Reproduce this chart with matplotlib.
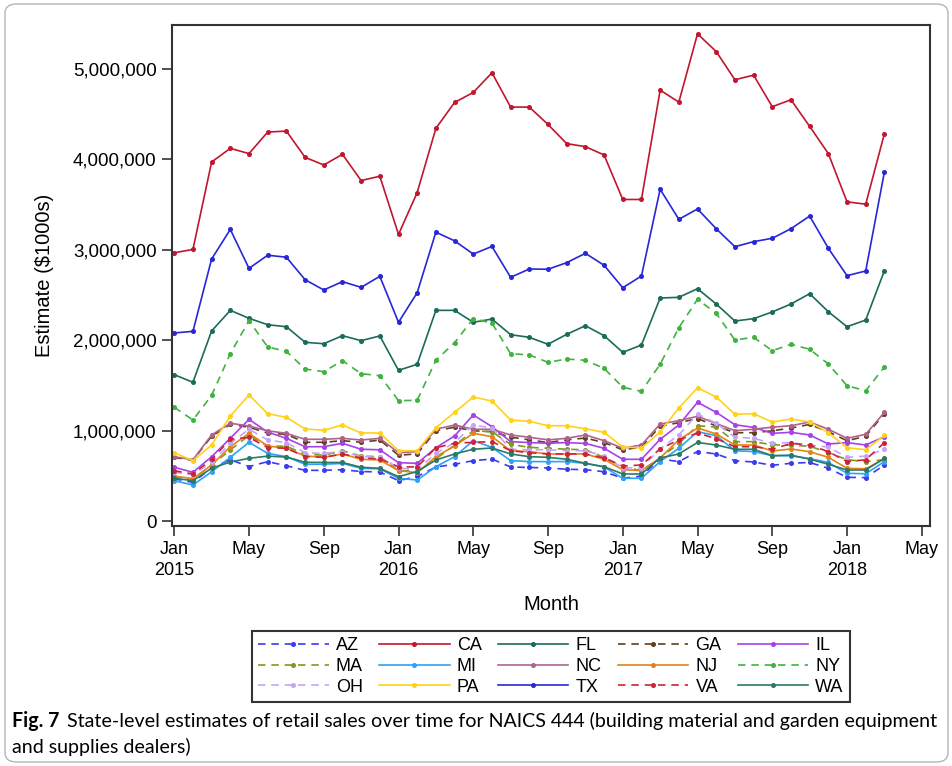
import numpy as np
import matplotlib
matplotlib.use("Agg")
import matplotlib.pyplot as plt
from matplotlib.patches import FancyBboxPatch
from matplotlib.ticker import FuncFormatter

# Monthly estimates, Jan 2015 - Mar 2018, in $1000s
AZ = [470, 430, 590, 680, 605, 659, 614, 563, 563, 570, 550, 545, 449, 495, 600, 630, 670, 688, 600, 595, 589, 575, 570, 548, 475, 500, 690, 659, 771, 744, 670, 655, 619, 641, 650, 586, 486, 483, 622]
CA = [2967, 3004, 3970, 4121, 4063, 4301, 4312, 4022, 3937, 4055, 3765, 3813, 3170, 3633, 4342, 4628, 4739, 4956, 4577, 4577, 4385, 4173, 4140, 4048, 3556, 3556, 4764, 4632, 5386, 5191, 4879, 4930, 4581, 4658, 4364, 4063, 3530, 3504, 4283]
FL = [1620, 1536, 2103, 2331, 2243, 2172, 2150, 1978, 1962, 2051, 1996, 2048, 1668, 1735, 2331, 2331, 2199, 2235, 2062, 2033, 1956, 2066, 2161, 2051, 1867, 1948, 2467, 2475, 2570, 2401, 2213, 2239, 2313, 2401, 2515, 2316, 2150, 2224, 2769]
GA = [705, 675, 940, 1070, 1040, 975, 960, 873, 873, 891, 873, 898, 730, 745, 1000, 1040, 1000, 990, 930, 900, 870, 900, 920, 870, 790, 820, 1050, 1090, 1135, 1053, 979, 979, 1000, 1030, 1070, 990, 890, 940, 1190]
IL = [597, 541, 714, 917, 1127, 985, 917, 824, 824, 862, 796, 790, 648, 640, 813, 943, 1175, 1046, 880, 870, 862, 870, 860, 807, 685, 685, 906, 1064, 1315, 1204, 1067, 1038, 972, 983, 954, 854, 870, 843, 935]
MA = [493, 465, 622, 788, 950, 830, 830, 740, 730, 780, 720, 714, 560, 555, 690, 840, 1000, 990, 850, 817, 807, 796, 790, 707, 600, 560, 700, 860, 1056, 1040, 880, 880, 845, 840, 830, 760, 680, 660, 680]
MI = [449, 401, 548, 707, 873, 751, 714, 630, 630, 640, 585, 580, 475, 456, 603, 714, 891, 817, 670, 660, 659, 660, 640, 600, 475, 475, 660, 807, 990, 946, 780, 770, 725, 725, 692, 650, 530, 525, 660]
NC = [714, 680, 954, 1083, 1053, 1000, 972, 906, 906, 917, 898, 917, 758, 770, 1017, 1064, 1017, 1017, 954, 928, 900, 917, 954, 891, 807, 843, 1075, 1112, 1160, 1080, 1001, 1017, 1040, 1056, 1097, 1017, 917, 961, 1204]
NJ = [500, 471, 622, 824, 972, 832, 807, 722, 707, 744, 685, 677, 560, 537, 714, 832, 972, 935, 780, 770, 744, 744, 744, 685, 570, 560, 700, 900, 1031, 965, 843, 843, 777, 799, 769, 707, 586, 580, 690]
NY = [1260, 1119, 1392, 1852, 2217, 1926, 1878, 1683, 1653, 1775, 1631, 1609, 1333, 1337, 1779, 1974, 2239, 2191, 1852, 1838, 1757, 1793, 1779, 1690, 1481, 1436, 1735, 2139, 2453, 2298, 2003, 2033, 1885, 1956, 1901, 1738, 1498, 1443, 1705]
OH = [540, 515, 650, 860, 1017, 898, 869, 758, 750, 770, 714, 714, 590, 570, 750, 870, 1064, 1030, 796, 790, 790, 780, 780, 720, 590, 590, 800, 954, 1186, 1083, 928, 917, 862, 870, 843, 820, 707, 720, 796]
PA = [758, 670, 843, 1163, 1396, 1189, 1149, 1020, 1006, 1064, 976, 976, 780, 780, 1034, 1204, 1373, 1329, 1119, 1105, 1056, 1056, 1023, 983, 821, 810, 987, 1252, 1476, 1373, 1182, 1189, 1097, 1130, 1097, 979, 813, 791, 950]
TX = [2081, 2099, 2898, 3225, 2795, 2940, 2918, 2670, 2556, 2648, 2585, 2707, 2199, 2526, 3195, 3099, 2953, 3037, 2696, 2788, 2785, 2858, 2961, 2829, 2581, 2710, 3669, 3337, 3451, 3233, 3034, 3090, 3127, 3233, 3373, 3017, 2714, 2766, 3860]
VA = [559, 523, 685, 906, 928, 813, 807, 715, 707, 744, 700, 690, 603, 600, 813, 862, 873, 880, 780, 758, 744, 744, 744, 700, 611, 622, 800, 900, 975, 913, 824, 824, 796, 860, 843, 770, 659, 680, 869]
WA = [475, 449, 586, 655, 696, 720, 710, 652, 650, 650, 597, 585, 493, 550, 677, 744, 796, 810, 744, 714, 707, 685, 641, 603, 523, 523, 700, 744, 871, 843, 796, 796, 725, 730, 687, 630, 567, 567, 696]

states = ["AZ", "CA", "FL", "GA", "IL", "MA", "MI", "NC", "NJ", "NY", "OH", "PA", "TX", "VA", "WA"]
series = [AZ, CA, FL, GA, IL, MA, MI, NC, NJ, NY, OH, PA, TX, VA, WA]
colors = ["#3b3bf2", "#c2162e", "#1b6b5a", "#5e3f1f", "#a742e8", "#7d9a1e", "#2fa2f5",
          "#b0628f", "#e3831b", "#3fb33f", "#c4a4f6", "#ffd21a", "#2727d8", "#cf2236", "#2b7a68"]
dashed = {"AZ", "GA", "MA", "NY", "OH", "VA"}

x_ticks = [0, 4, 8, 12, 16, 20, 24, 28, 32, 36, 40]
x_labels = ["Jan\n2015", "May", "Sep", "Jan\n2016", "May", "Sep", "Jan\n2017", "May", "Sep", "Jan\n2018", "May"]
y_ticks = [0, 1000000, 2000000, 3000000, 4000000, 5000000]

FONT = "Liberation Sans"
W, H = 953, 766

fig = plt.figure(figsize=(W / 100, H / 100), dpi=100)
ax = fig.add_axes([172 / W, 1 - 526 / H, (930 - 172) / W, (526 - 25) / H])

months = np.arange(len(CA))
handles = {}
for name, vals, c in zip(states, series, colors):
    ls = (0, (4.5, 3.5)) if name in dashed else "-"
    (ln,) = ax.plot(months, np.array(vals) * 1000, color=c, lw=1.2, ls=ls,
                    marker="o", ms=2.6, mec=c, mfc=c)
    handles[name] = ln

ax.set_xlim(-0.12, 40.44)
ax.set_ylim(-52000, 5484000)
ax.set_xticks(x_ticks)
ax.set_xticklabels(x_labels, fontsize=13, family=FONT, linespacing=1.25)
ax.set_yticks(y_ticks)
ax.yaxis.set_major_formatter(FuncFormatter(lambda v, p: f"{int(v):,}"))
for lab in ax.get_yticklabels():
    lab.set_fontsize(13.5)
    lab.set_family(FONT)
ax.tick_params(direction="out", length=7, width=1.2, color="#333333", pad=4)
for s in ax.spines.values():
    s.set_linewidth(1.5)
    s.set_color("#333333")

fig.text(45 / W, 1 - 275 / H, "Estimate ($1000s)", rotation=90, ha="center", va="center",
         fontsize=14.5, family=FONT)
fig.text(551 / W, 1 - 605 / H, "Month", ha="center", va="center", fontsize=14.5, family=FONT)

# legend laid out row by row, 5 columns
order = [states[j + 5 * i] for j in range(5) for i in range(3)]
leg = ax.legend([handles[s] for s in order], order, ncol=5, loc="upper center",
                bbox_to_anchor=(551 / W, 1 - 631 / H), bbox_transform=fig.transFigure,
                frameon=True, fancybox=False, edgecolor="#333333", framealpha=1,
                borderpad=0.35, handlelength=3.9, handletextpad=0.4, columnspacing=0.9,
                labelspacing=0.2, borderaxespad=0, prop={"family": FONT, "size": 13})
leg.get_frame().set_linewidth(1.5)

# outer rounded border
border = FancyBboxPatch((5 / W, 4 / H), 943 / W, 758 / H,
                        boxstyle="round,pad=0,rounding_size=0.012",
                        transform=fig.transFigure, fill=False, edgecolor="#b5b5b5", lw=1.0)
fig.patches.append(border)

# caption
CAP = "Lato"
line1 = "State-level estimates of retail sales over time for NAICS 444 (building material and garden equipment"
line2 = "and supplies dealers)"
fs = 12.5
renderer = fig.canvas.get_renderer()
t1 = fig.text(12 / W, 1 - 727 / H, "Fig. 7", fontweight="bold", fontsize=fs, family=CAP, va="baseline")
t2 = fig.text(0, 1 - 727 / H, line1, fontsize=fs, family=CAP, va="baseline")
w1 = t1.get_window_extent(renderer).width
w2 = t2.get_window_extent(renderer).width
gap = 0.55 * fs
scale = (938 - 12) / (w1 + gap + w2)
fs *= scale
t1.set_fontsize(fs)
t2.set_fontsize(fs)
w1 = t1.get_window_extent(renderer).width
t2.set_x((12 + w1 + 0.55 * fs) / W)
fig.text(12 / W, 1 - 753 / H, line2, fontsize=fs, family=CAP, va="baseline")

fig.savefig("out.png", dpi=100)
